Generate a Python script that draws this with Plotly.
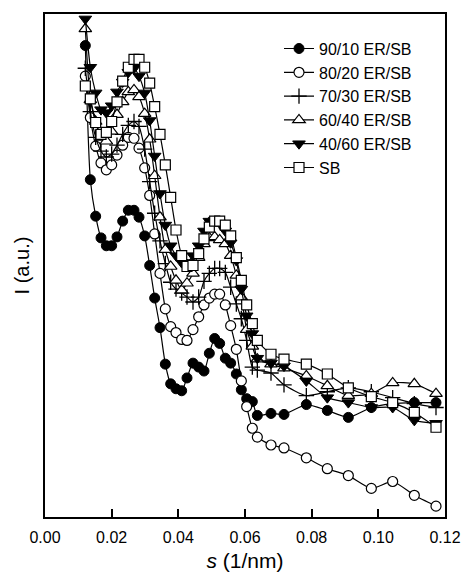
import plotly.graph_objects as go

# Common scattering-vector grid s (1/nm)
s = [0.0121, 0.0136, 0.0152, 0.0168, 0.0184, 0.0200, 0.0216, 0.0233, 0.0250, 0.0267,
     0.0282, 0.0299, 0.0314, 0.0329, 0.0345, 0.0361, 0.0377, 0.0393, 0.0410, 0.0426,
     0.0444, 0.0461, 0.0477, 0.0493, 0.0509, 0.0524, 0.0541, 0.0557, 0.0574, 0.0589,
     0.0605, 0.0622, 0.0637, 0.0678, 0.0717, 0.0784, 0.0847, 0.0910, 0.0979, 0.1043,
     0.1108, 0.1173]

# Intensities (a.u.)
i_90_10 = [478, 342, 305, 283, 275, 275, 284, 300, 311, 311,
           304, 285, 255, 222, 192, 155, 135, 130, 128, 141,
           156, 152, 148, 166, 181, 176, 161, 156, 145, 129,
           120, 117, 103, 105, 104, 114, 108, 101, 111, 115,
           116, 116]
i_80_20 = [447, 405, 376, 359, 352, 357, 367, 377, 385, 384,
           374, 354, 326, 287, 247, 211, 193, 187, 180, 179,
           190, 203, 215, 222, 226, 226, 215, 194, 170, 138,
           112, 90, 81, 73, 70, 60, 49, 42, 29, 36,
           22, 11]
i_70_30 = [455, 411, 385, 371, 365, 368, 377, 388, 397, 401,
           396, 373, 340, 308, 280, 257, 238, 231, 227, 223,
           218, 223, 239, 247, 252, 252, 248, 233, 216, 201,
           179, 152, 149, 146, 134, 123, 127, 131, 127, 121,
           115, 111]
i_60_40 = [495, 423, 401, 385, 381, 391, 408, 421, 431, 433,
           426, 409, 383, 346, 304, 271, 254, 240, 230, 237,
           247, 263, 277, 283, 284, 281, 277, 265, 245, 223,
           190, 173, 160, 155, 151, 143, 133, 123, 125, 136,
           135, 125]
i_40_60 = [505, 456, 430, 413, 410, 417, 431, 441, 451, 455,
           447, 430, 402, 366, 328, 296, 275, 265, 258, 258,
           265, 275, 290, 300, 301, 298, 290, 278, 260, 231,
           204, 186, 161, 156, 153, 138, 121, 116, 111, 111,
           98, 95]
i_sb = [437, 424, 400, 388, 390, 401, 421, 442, 456, 464,
        464, 456, 440, 416, 388, 357, 324, 291, 265, 254,
        255, 267, 282, 294, 300, 300, 296, 285, 263, 240,
        215, 196, 179, 165, 160, 155, 145, 131, 122, 116,
        106, 91]

names = ["90/10 ER/SB", "80/20 ER/SB", "70/30 ER/SB", "60/40 ER/SB", "40/60 ER/SB", "SB"]
series = [i_90_10, i_80_20, i_70_30, i_60_40, i_40_60, i_sb]
x_ticks = [0.00, 0.02, 0.04, 0.06, 0.08, 0.10, 0.12]

styles = [
    dict(symbol="circle", color="black", size=10, line=dict(color="black", width=1)),
    dict(symbol="circle", color="white", size=10, line=dict(color="black", width=1.2)),
    dict(symbol="cross-thin", color="black", size=11, line=dict(color="black", width=1.3)),
    dict(symbol="triangle-up", color="white", size=11, line=dict(color="black", width=1.2)),
    dict(symbol="triangle-down", color="black", size=11, line=dict(color="black", width=1)),
    dict(symbol="square", color="white", size=10, line=dict(color="black", width=1.2)),
]

FONT = "Liberation Sans, Arial, Helvetica, sans-serif"

fig = go.Figure()
for name, ys, st in zip(names, series, styles):
    fig.add_trace(go.Scatter(
        x=s, y=ys, name=name, mode="lines+markers",
        line=dict(color="black", width=1.2, shape="spline", smoothing=0.6),
        marker=st,
    ))

fig.update_layout(
    width=473, height=581,
    margin=dict(l=45, r=19, t=13, b=58),
    paper_bgcolor="white", plot_bgcolor="white",
    font=dict(family=FONT, color="black", size=16),
    showlegend=True,
    legend=dict(x=0.585, y=0.965, xanchor="left", yanchor="top",
                bgcolor="rgba(0,0,0,0)", font=dict(size=16, family=FONT),
                tracegroupgap=0),
    xaxis=dict(range=[0, 0.12], tickvals=x_ticks, tickformat=".2f",
               ticks="inside", ticklen=8, tickwidth=1.5, tickcolor="black",
               ticklabelstandoff=5,
               showline=True, linecolor="black", linewidth=1.5, mirror=True,
               showgrid=False, zeroline=False,
               tickfont=dict(size=16, family=FONT),
               title=dict(text="<i>s</i> (1/nm)", font=dict(size=21, family=FONT), standoff=8)),
    yaxis=dict(range=[0, 510], showticklabels=False, ticks="",
               showline=True, linecolor="black", linewidth=1.5, mirror=True,
               showgrid=False, zeroline=False,
               title=dict(text="I (a.u.)", font=dict(size=20, family=FONT), standoff=8)),
)

fig.write_html("out.html")
